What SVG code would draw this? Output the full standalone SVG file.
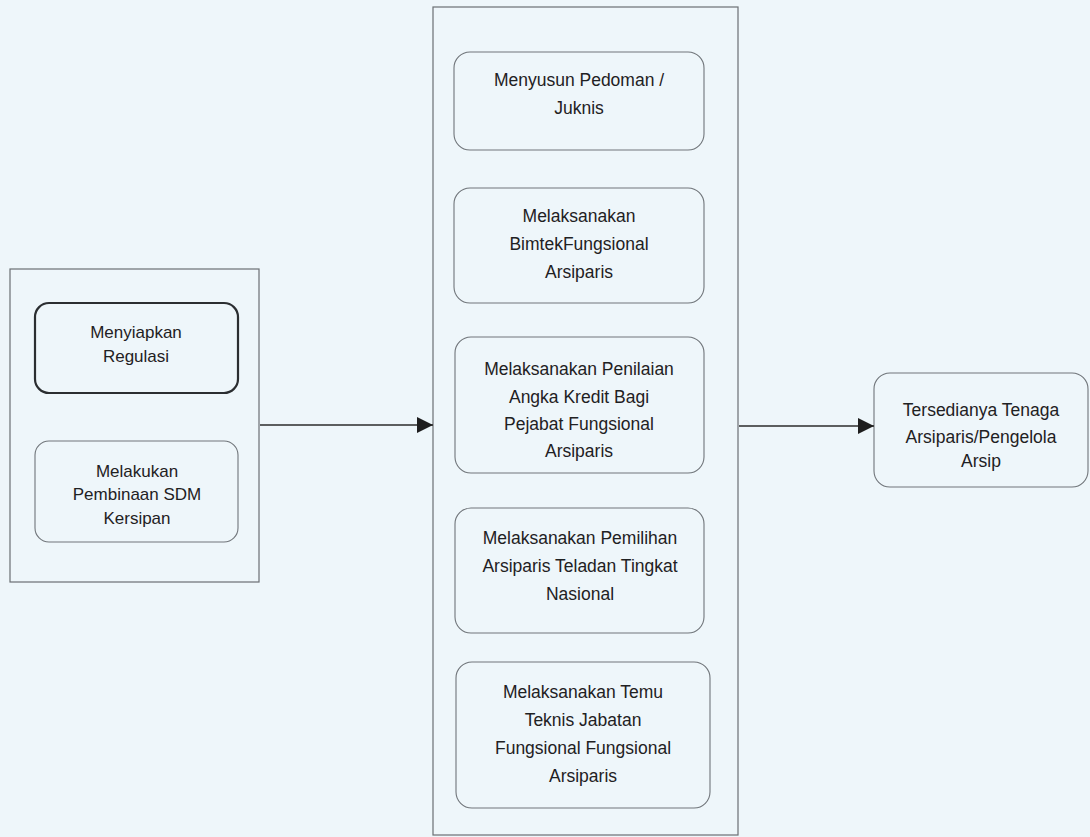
<svg xmlns="http://www.w3.org/2000/svg" width="1090" height="837" viewBox="0 0 1090 837">
  <style>
    .bg { fill: #eef6fa; }
    .frame { fill: none; stroke: #6b6f73; stroke-width: 1.2; }
    .node { fill: none; stroke: #70757a; stroke-width: 1.1; }
    .node-strong { fill: none; stroke: #2b2e31; stroke-width: 2.2; }
    .label { font-family: "Liberation Sans", Arial, sans-serif; font-size: 17.5px; fill: #1f2123; text-anchor: middle; }
    .small { font-size: 17px; }
    .link { stroke: #2b2b2b; stroke-width: 1.3; fill: none; marker-end: url(#arrow); }
  </style>
  <defs>
    <marker id="arrow" viewBox="0 0 10 10" refX="10" refY="5" markerWidth="16" markerHeight="16" markerUnits="userSpaceOnUse" orient="auto">
      <path d="M0,0 L10,5 L0,10 z" fill="#1e1e1e"/>
    </marker>
  </defs>

  <rect class="bg" x="0" y="0" width="1090" height="837"/>

  <!-- left group: preparation -->
  <g id="group-left">
    <rect class="frame" x="10" y="269" width="249" height="313"/>
  </g>
  <g id="node-regulasi">
    <rect class="node-strong" x="35" y="303" width="203" height="90" rx="14"/>
    <text class="label small" x="136" y="338">Menyiapkan</text>
    <text class="label small" x="136" y="362">Regulasi</text>
  </g>
  <g id="node-pembinaan">
    <rect class="node" x="35" y="441" width="203" height="101" rx="14"/>
    <text class="label small" x="137" y="477">Melakukan</text>
    <text class="label small" x="137" y="500">Pembinaan SDM</text>
    <text class="label small" x="137" y="524">Kersipan</text>
  </g>

  <!-- middle group: activities -->
  <g id="group-middle">
    <rect class="frame" x="433" y="7" width="305" height="828"/>
  </g>
  <g id="node-pedoman">
    <rect class="node" x="454" y="52" width="250" height="98" rx="16"/>
    <text class="label" x="579" y="86">Menyusun Pedoman /</text>
    <text class="label" x="579" y="114">Juknis</text>
  </g>
  <g id="node-bimtek">
    <rect class="node" x="454" y="188" width="250" height="115" rx="16"/>
    <text class="label" x="579" y="222">Melaksanakan</text>
    <text class="label" x="579" y="250">BimtekFungsional</text>
    <text class="label" x="579" y="278">Arsiparis</text>
  </g>
  <g id="node-penilaian">
    <rect class="node" x="455" y="337" width="249" height="136" rx="16"/>
    <text class="label" x="579" y="375">Melaksanakan Penilaian</text>
    <text class="label" x="579" y="403">Angka Kredit Bagi</text>
    <text class="label" x="579" y="430">Pejabat Fungsional</text>
    <text class="label" x="579" y="457">Arsiparis</text>
  </g>
  <g id="node-pemilihan">
    <rect class="node" x="455" y="508" width="249" height="125" rx="16"/>
    <text class="label" x="580" y="544">Melaksanakan Pemilihan</text>
    <text class="label" x="580" y="572">Arsiparis Teladan Tingkat</text>
    <text class="label" x="580" y="600">Nasional</text>
  </g>
  <g id="node-temu">
    <rect class="node" x="456" y="662" width="254" height="146" rx="16"/>
    <text class="label" x="583" y="698">Melaksanakan Temu</text>
    <text class="label" x="583" y="726">Teknis Jabatan</text>
    <text class="label" x="583" y="754">Fungsional Fungsional</text>
    <text class="label" x="583" y="782">Arsiparis</text>
  </g>

  <!-- outcome -->
  <g id="node-hasil">
    <rect class="node" x="874" y="373" width="214" height="114" rx="16"/>
    <text class="label" x="981" y="416">Tersedianya Tenaga</text>
    <text class="label" x="981" y="443">Arsiparis/Pengelola</text>
    <text class="label" x="981" y="467">Arsip</text>
  </g>

  <!-- connectors -->
  <g id="connectors">
    <line class="link" x1="260" y1="425" x2="433" y2="425"/>
    <line class="link" x1="739" y1="426" x2="874" y2="426"/>
  </g>
</svg>
